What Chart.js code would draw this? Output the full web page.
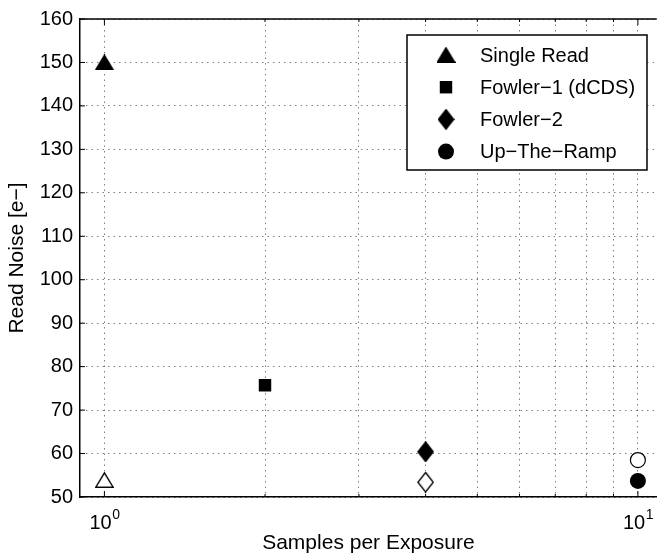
<!DOCTYPE html>
<html>
<head>
<meta charset="utf-8">
<script src="https://cdn.jsdelivr.net/npm/chart.js@4/dist/chart.umd.min.js"></script>
<style>
  html, body { margin: 0; padding: 0; background: #fff; overflow: hidden; }
  #wrap { width: 668px; height: 558px; position: relative; }
</style>
</head>
<body>
<div id="wrap"><canvas id="myChart"></canvas></div>
<script>
const methods = ['Single Read', 'Fowler\u22121 (dCDS)', 'Fowler\u22122', 'Up\u2212The\u2212Ramp'];
const samples = [1, 2, 4, 10];
const filledNoise = [150, 75.7, 60.4, 53.7];
const openNoise = [53.9, null, 53.4, 58.5];
const shapes = ['triangle', 'square', 'diamond', 'circle'];
const xTicks = [1, 2, 3, 4, 5, 6, 7, 8, 9, 10];
const xDecades = [1, 10];
const yTicks = [50, 60, 70, 80, 90, 100, 110, 120, 130, 140, 150, 160];

const FONT = "'Liberation Sans', Arial, Helvetica, sans-serif";

// triangle and diamond drawn on small canvases so they sit centred like matlab markers
function markerCanvas(shape, filled) {
  const c = document.createElement('canvas');
  const w = shape === 'triangle' ? 19 : 17;
  const h = shape === 'triangle' ? 16 : 21;
  c.width = w; c.height = h;
  const g = c.getContext('2d');
  g.beginPath();
  if (shape === 'triangle') {
    g.moveTo(w / 2, 0.8); g.lineTo(w - 0.8, h - 0.8); g.lineTo(0.8, h - 0.8);
  } else {
    g.moveTo(w / 2, 0.8); g.lineTo(w - 0.8, h / 2); g.lineTo(w / 2, h - 0.8); g.lineTo(0.8, h / 2);
  }
  g.closePath();
  g.fillStyle = filled ? '#000' : '#fff';
  g.fill();
  g.strokeStyle = '#000';
  g.lineWidth = 1.4;
  g.stroke();
  return c;
}

function styleFor(shape, filled) {
  if (shape === 'square') return { pointStyle: 'rect', pointRadius: 8.8 };
  if (shape === 'circle') return { pointStyle: 'circle', pointRadius: filled ? 8 : 7.5 };
  return { pointStyle: markerCanvas(shape, filled), pointRadius: 10 };
}

const datasets = [];
methods.forEach((m, i) => {
  datasets.push(Object.assign({
    label: m,
    inLegend: true,
    data: [{ x: samples[i], y: filledNoise[i] }],
    backgroundColor: '#000',
    borderColor: '#000',
    borderWidth: 0
  }, styleFor(shapes[i], true)));
});
methods.forEach((m, i) => {
  if (openNoise[i] === null) return;
  datasets.push(Object.assign({
    label: m + ' (open)',
    inLegend: false,
    data: [{ x: samples[i], y: openNoise[i] }],
    backgroundColor: '#fff',
    borderColor: '#000',
    borderWidth: 1.2
  }, styleFor(shapes[i], false)));
});

// top border, inward tick marks and 10^n labels like matlab
const frame = {
  id: 'frame',
  beforeDatasetsDraw(chart) {
    const { ctx, chartArea: a, scales } = chart;
    ctx.save();
    ctx.strokeStyle = '#000';
    ctx.lineWidth = 1;
    ctx.beginPath();
    yTicks.forEach(v => {
      const y = scales.y.getPixelForValue(v);
      ctx.moveTo(a.left, y); ctx.lineTo(a.left + 5, y);
    });
    xTicks.forEach(v => {
      const x = scales.x.getPixelForValue(v);
      const len = xDecades.includes(v) ? 6 : 3;
      ctx.moveTo(x, a.bottom); ctx.lineTo(x, a.bottom - len);
      ctx.moveTo(x, a.top); ctx.lineTo(x, a.top + len);
    });
    ctx.stroke();
    ctx.lineWidth = 1.5;
    ctx.beginPath();
    ctx.moveTo(a.left, a.top); ctx.lineTo(a.right, a.top);
    ctx.stroke();

    ctx.fillStyle = '#000';
    ctx.textBaseline = 'alphabetic';
    ctx.textAlign = 'left';
    xDecades.forEach(v => {
      const x = scales.x.getPixelForValue(v);
      const exp = String(Math.round(Math.log10(v)));
      ctx.font = '20px ' + FONT;
      const bw = ctx.measureText('10').width;
      ctx.font = '14px ' + FONT;
      const ew = ctx.measureText(exp).width;
      const x0 = x - (bw + ew) / 2;
      ctx.font = '20px ' + FONT;
      ctx.fillText('10', x0, a.bottom + 32);
      ctx.font = '14px ' + FONT;
      ctx.fillText(exp, x0 + bw + 0.5, a.bottom + 21.5);
    });
    ctx.restore();
  }
};

const boxLegend = {
  id: 'boxLegend',
  afterDraw(chart) {
    const ctx = chart.ctx;
    const left = 407, top = 35, w = 240, h = 135;
    ctx.save();
    ctx.fillStyle = '#fff';
    ctx.fillRect(left, top, w, h);
    ctx.strokeStyle = '#000';
    ctx.lineWidth = 1.5;
    ctx.strokeRect(left, top, w, h);
    ctx.font = '20px ' + FONT;
    ctx.textBaseline = 'middle';
    chart.data.datasets.filter(d => d.inLegend).forEach((d, i) => {
      const y = top + 20 + i * 32.2;
      ctx.fillStyle = '#000';
      Chart.helpers.drawPoint(ctx, { pointStyle: d.pointStyle, radius: d.pointRadius, rotation: 0, borderWidth: 0 }, left + 39, y);
      ctx.fillStyle = '#000';
      ctx.fillText(d.label, left + 73, y + 1);
    });
    ctx.restore();
  }
};

const config = {
  type: 'scatter',
  data: { datasets: datasets },
  options: {
    responsive: true,
    maintainAspectRatio: false,
    animation: false,
    layout: { padding: { top: 15, right: 0, left: 0, bottom: 0 } },
    plugins: { legend: { display: false }, tooltip: { enabled: false } },
    scales: {
      x: {
        type: 'logarithmic',
        min: 0.9,
        max: 10.85,
        afterBuildTicks: s => { s.ticks = xTicks.map(v => ({ value: v })); },
        afterFit: s => { s.height = 61; },
        ticks: {
          autoSkip: false,
          maxRotation: 0,
          padding: 13,
          color: '#000',
          font: { family: FONT, size: 20 },
          callback: () => ''
        },
        grid: { color: 'rgba(0,0,0,0.5)', lineWidth: 1, drawTicks: false },
        border: { color: '#000', width: 1.5, dash: [1.5, 4] },
        title: {
          display: true,
          text: 'Samples per Exposure',
          color: '#000',
          font: { family: FONT, size: 21 },
          padding: { top: 0, bottom: 2 }
        }
      },
      y: {
        min: 50,
        max: 160,
        afterBuildTicks: s => { s.ticks = yTicks.map(v => ({ value: v })); },
        afterFit: s => { s.width = 80; },
        ticks: {
          padding: 7,
          color: '#000',
          font: { family: FONT, size: 20 }
        },
        grid: { color: 'rgba(0,0,0,0.5)', lineWidth: 1, drawTicks: false },
        border: { color: '#000', width: 1.5, dash: [1.5, 4] },
        title: {
          display: true,
          text: 'Read Noise [e\u2212]',
          color: '#000',
          font: { family: FONT, size: 21 },
          padding: { top: 5, bottom: 0 }
        }
      }
    }
  },
  plugins: [frame, boxLegend]
};

const myChart = new Chart(document.getElementById('myChart'), config);
</script>
</body>
</html>
